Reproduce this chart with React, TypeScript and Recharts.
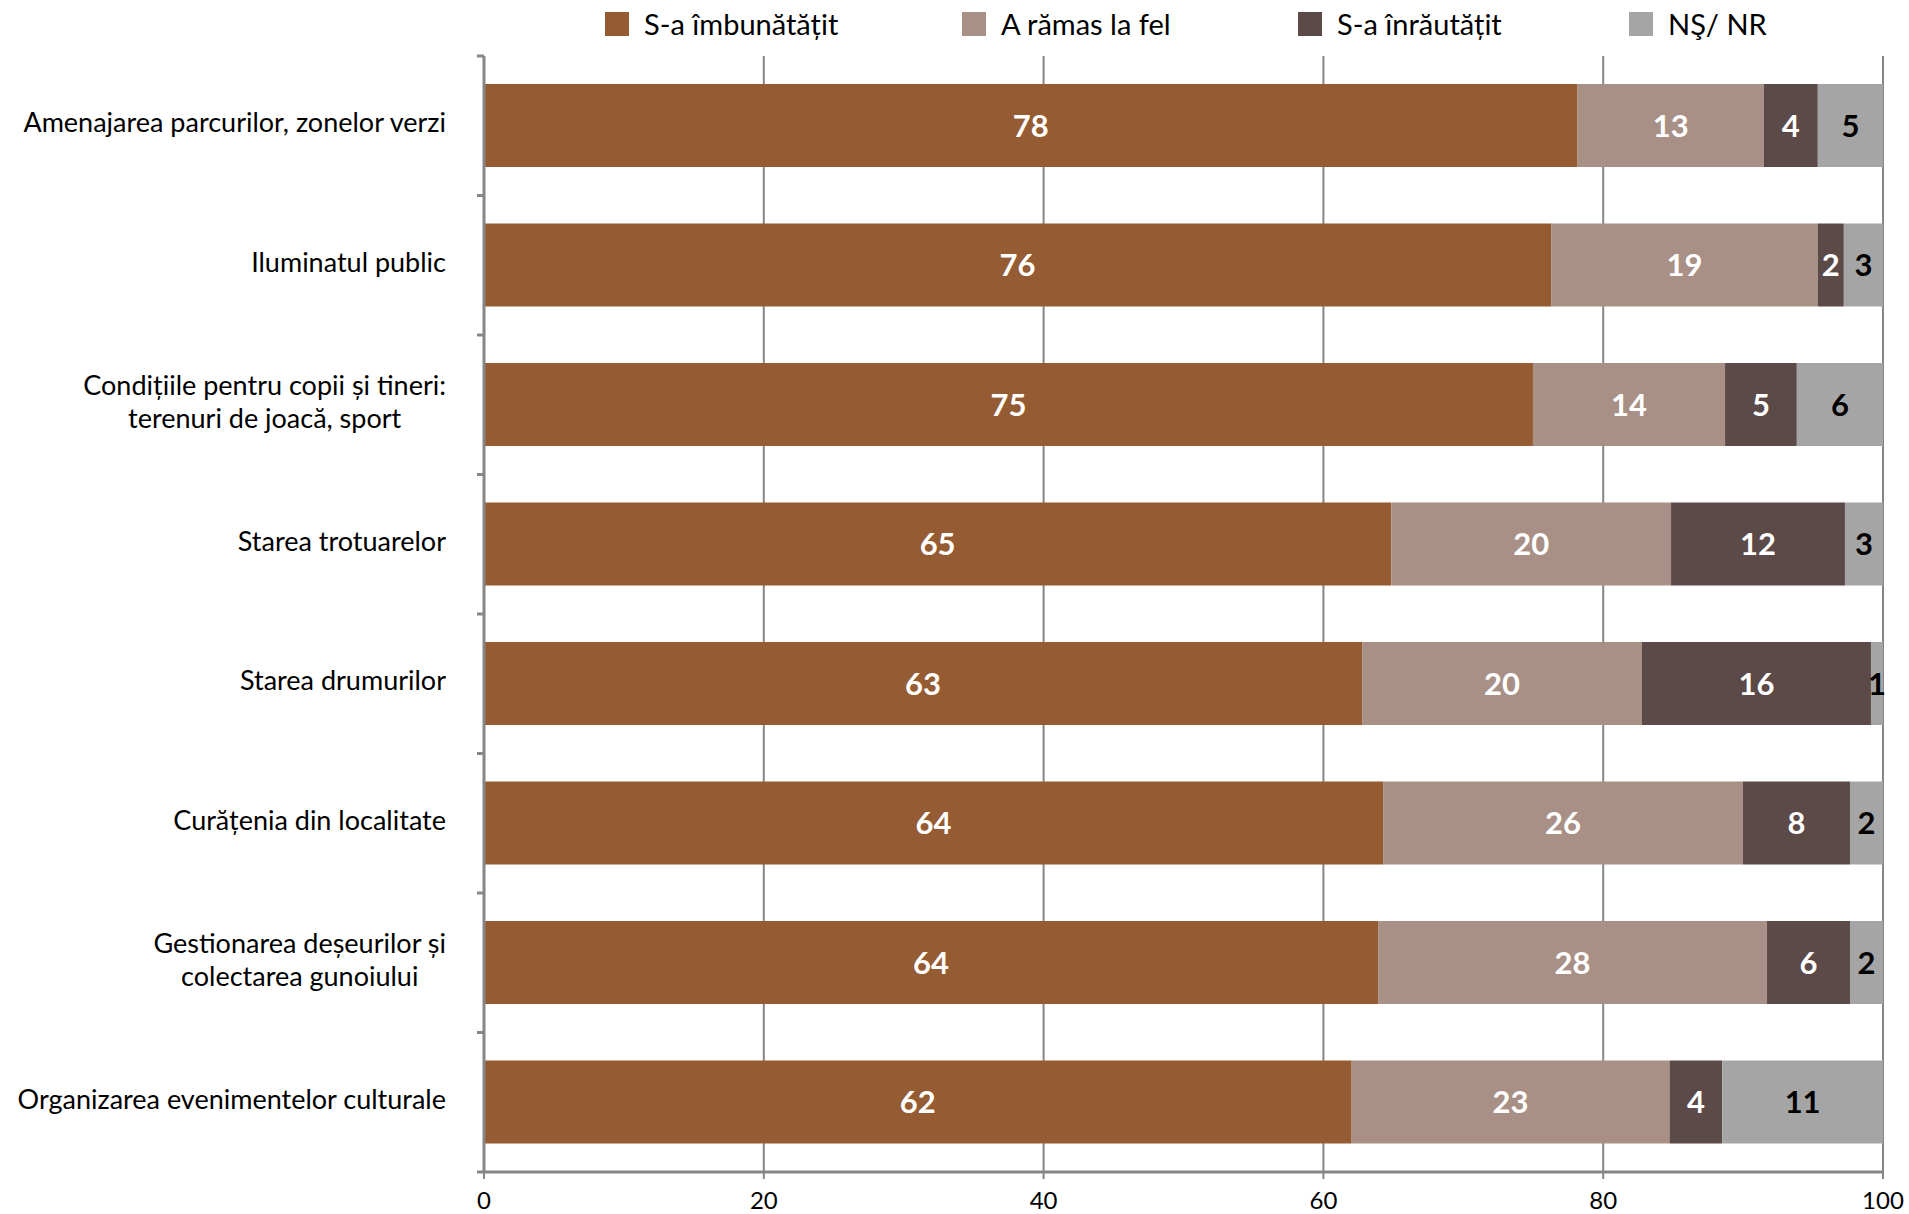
import { BarChart, Bar, XAxis, YAxis, CartesianGrid, Legend, LabelList } from 'recharts';

// categories, top to bottom
const categories = [
  'Amenajarea parcurilor, zonelor verzi',
  'Iluminatul public',
  'Condițiile pentru copii și tineri:\nterenuri de joacă, sport',
  'Starea trotuarelor',
  'Starea drumurilor',
  'Curățenia din localitate',
  'Gestionarea deșeurilor și\ncolectarea gunoiului',
  'Organizarea evenimentelor culturale'
];

// % values (labels show them rounded)
const improved = [78.17, 76.28, 74.98, 64.85, 62.77, 64.27, 63.91, 62.02];
const same = [13.31, 19.06, 13.73, 20.0, 20.0, 25.72, 27.8, 22.72];
const worse = [3.86, 1.86, 5.13, 12.43, 16.37, 7.65, 5.93, 3.77];
const dontKnow = [4.66, 2.8, 6.16, 2.72, 0.86, 2.36, 2.36, 11.49];

const xTicks = [0, 20, 40, 60, 80, 100];

const series = [
  { key: 'improved', name: 'S-a îmbunătățit', color: '#955B32', labelColor: '#ffffff' },
  { key: 'same', name: 'A rămas la fel', color: '#A99086', labelColor: '#ffffff' },
  { key: 'worse', name: 'S-a înrăutățit', color: '#5B4A48', labelColor: '#ffffff' },
  { key: 'dontKnow', name: 'NŞ/ NR', color: '#A5A5A5', labelColor: '#000000' }
];

const chartData = categories.map((name, i) => ({
  name,
  improved: improved[i],
  same: same[i],
  worse: worse[i],
  dontKnow: dontKnow[i]
}));

const FONT = 'Lato, "Open Sans", sans-serif';
const AXIS_COLOR = '#868686';
const PLOT_TOP = 56;
const PLOT_BOTTOM = 1172;
const BAND = (PLOT_BOTTOM - PLOT_TOP) / categories.length;
const LABEL_GAP = 38;

function CategoryTick(props: any) {
  const { x, y, payload, index } = props;
  const axisX = x + LABEL_GAP;
  return (
    <g>
      <line x1={axisX - 7} x2={axisX} y1={y - BAND / 2} y2={y - BAND / 2} stroke={AXIS_COLOR} strokeWidth={3} />
      {index === categories.length - 1 && (
        <line x1={axisX - 7} x2={axisX} y1={y + BAND / 2} y2={y + BAND / 2} stroke={AXIS_COLOR} strokeWidth={3} />
      )}
      <foreignObject x={x - 446} y={y - 49} width={446} height={90}>
        <div style={{
          display: 'flex',
          alignItems: 'center',
          justifyContent: 'flex-end',
          height: '100%'
        }}>
          <div style={{
            textAlign: 'center',
            whiteSpace: 'pre-line',
            fontFamily: FONT,
            fontSize: 27,
            lineHeight: '33px',
            color: '#000'
          }}>{payload.value}</div>
        </div>
      </foreignObject>
    </g>
  );
}

// legend item widths so the swatches land where the reference has them
const legendWidths = [357, 336, 331, 180];

function LegendContent() {
  return (
    <div style={{ display: 'flex', alignItems: 'center', fontFamily: FONT, fontSize: 29, color: '#000' }}>
      {series.map((s, i) => (
        <div key={s.key} style={{ display: 'flex', alignItems: 'center', width: legendWidths[i] }}>
          <span style={{ display: 'inline-block', width: 24, height: 24, background: s.color, marginRight: 15 }} />
          <span style={{ whiteSpace: 'nowrap' }}>{s.name}</span>
        </div>
      ))}
    </div>
  );
}

export default function App() {
  return (
    <div style={{ position: 'absolute', left: 0, top: 0, background: '#fff', fontFamily: FONT }}>
      <BarChart
        width={1909}
        height={1214}
        data={chartData}
        layout="vertical"
        margin={{ top: PLOT_TOP, right: 26, bottom: 0, left: 0 }}
        barSize={83}
      >
        <CartesianGrid horizontal={false} stroke={AXIS_COLOR} strokeWidth={2} />
        <XAxis
          type="number"
          domain={[0, 100]}
          ticks={xTicks}
          interval={0}
          height={42}
          axisLine={{ stroke: AXIS_COLOR, strokeWidth: 3 }}
          tickLine={{ stroke: AXIS_COLOR, strokeWidth: 2 }}
          tickSize={7}
          tickMargin={13}
          tick={{ fill: '#000', fontSize: 24, fontFamily: FONT }}
        />
        <YAxis
          type="category"
          dataKey="name"
          width={484}
          interval={0}
          axisLine={{ stroke: AXIS_COLOR, strokeWidth: 3 }}
          tickLine={false}
          tickSize={0}
          tickMargin={LABEL_GAP}
          tick={(p: any) => <CategoryTick {...p} />}
        />
        <Legend
          layout="horizontal"
          verticalAlign="middle"
          align="center"
          wrapperStyle={{ top: 6, left: 605, width: 1250, height: 36 }}
          content={() => <LegendContent />}
        />
        {series.map(s => (
          <Bar key={s.key} dataKey={s.key} name={s.name} stackId="a" fill={s.color} isAnimationActive={false}>
            <LabelList
              dataKey={s.key}
              position="center"
              formatter={(v: any) => Math.round(Number(v))}
              fill={s.labelColor}
              style={{ fontSize: 31, fontWeight: 700, fontFamily: FONT }}
            />
          </Bar>
        ))}
      </BarChart>
    </div>
  );
}
